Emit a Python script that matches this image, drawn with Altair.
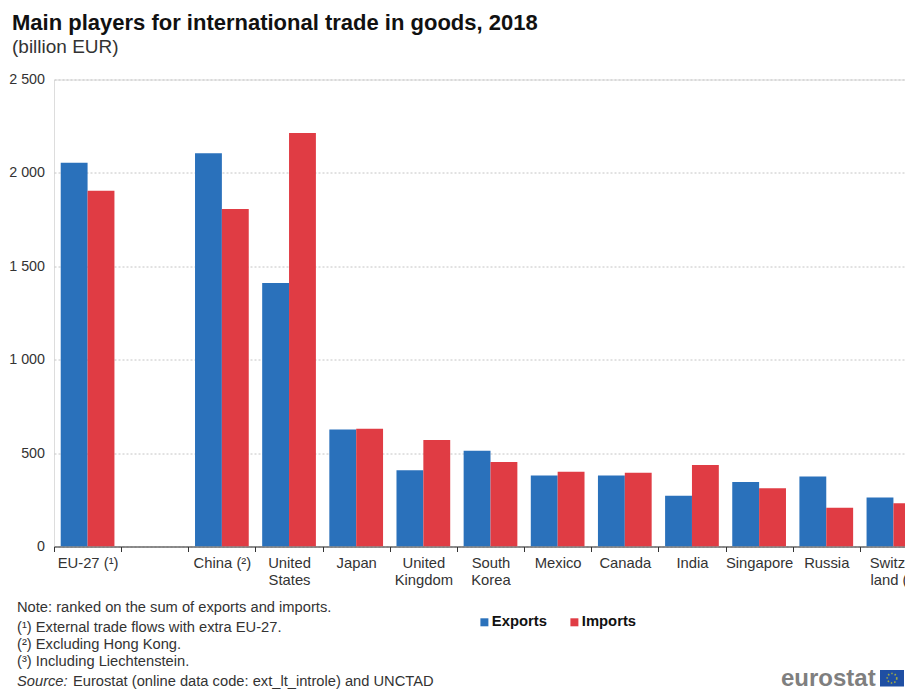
import altair as alt
import pandas as pd

countries = ["EU-27 (¹)", " ", "China (²)", "United|States", "Japan", "United|Kingdom",
             "South|Korea", "Mexico", "Canada", "India", "Singapore", "Russia", "Switzer|land (³)"]
exports = [2055, None, 2105, 1410, 626, 408, 512, 380, 380, 272, 345, 375, 262]
imports = [1905, None, 1807, 2213, 630, 570, 452, 400, 395, 436, 312, 208, 232]
series = ["Exports", "Imports"]
colors = ["#2a71bb", "#e03c44"]
title_text = "Main players for international trade in goods, 2018"
subtitle_text = "(billion EUR)"
FONT = "Liberation Sans"
TEXT = "#333333"

rows = []
for c, e, i in zip(countries, exports, imports):
    rows.append({"country": c, "series": "Exports", "value": e})
    rows.append({"country": c, "series": "Imports", "value": i})
df = pd.DataFrame(rows)

bars = alt.Chart(df).mark_bar(clip=True).encode(
    x=alt.X("country:N", sort=countries, title=None,
            scale=alt.Scale(range=[0, 873], paddingInner=0.2, paddingOuter=0.1),
            axis=alt.Axis(labelExpr="split(datum.label, '|')", labelAngle=0, labelAlign="center",
                          labelBaseline="top", labelFont=FONT, labelFontSize=14.8, labelColor=TEXT,
                          labelPadding=4, labelLineHeight=17, labelLimit=100, labelOverlap=False,
                          bandPosition=0, tickOffset=-6.7, tickExtra=True, labelOffset=6.7,
                          tickColor=TEXT, tickSize=5, domainColor=TEXT, grid=False)),
    xOffset=alt.XOffset("series:N", sort=series),
    y=alt.Y("value:Q", title=None,
            scale=alt.Scale(domain=[0, 2500], nice=False),
            axis=alt.Axis(values=[0, 500, 1000, 1500, 2000, 2500],
                          labelExpr="replace(format(datum.value, ','), ',', ' ')",
                          labelFont=FONT, labelFontSize=14.3, labelColor=TEXT, labelPadding=9.5,
                          ticks=False, domain=False, gridColor="#c4c4c4", gridDash=[2, 2],
                          gridWidth=1)),
    color=alt.Color("series:N", sort=series, title=None,
                    scale=alt.Scale(domain=series, range=colors),
                    legend=alt.Legend(orient="none", legendX=423, legendY=535, direction="horizontal",
                                      symbolType="square", symbolSize=64, symbolStrokeWidth=0,
                                      labelFont=FONT, labelFontSize=14.8, labelFontWeight="bold",
                                      labelColor="#111111", columnPadding=20, labelOffset=0)),
)


def note(text, x, y, **kw):
    base = dict(align="left", baseline="alphabetic", font=FONT, fontSize=14.7, color=TEXT)
    base.update(kw)
    return alt.Chart(pd.DataFrame({"t": [text]})).mark_text(**base).encode(
        text="t:N", x=alt.value(x), y=alt.value(y))


notes = [
    note("Note: ranked on the sum of exports and imports.", -37, 532.5),
    note("(¹) External trade flows with extra EU-27.", -37, 552),
    note("(²) Excluding Hong Kong.", -37, 569.5),
    note("(³) Including Liechtenstein.", -37, 586.5),
    note("Source:", -37, 606, fontStyle="italic"),
    note("Eurostat (online data code: ext_lt_introle) and UNCTAD", 19, 606),
    note("eurostat", 727, 606, fontSize=24, fontWeight="bold", color="#7f7f7f"),
]

flag = alt.Chart(pd.DataFrame({"f": [1]})).mark_rect(color="#1f4fa3").encode(
    x=alt.value(826), x2=alt.value(850), y=alt.value(590.5), y2=alt.value(607))
ring = alt.Chart(pd.DataFrame({"f": [1]})).mark_point(
    color="#d9d21e", size=90, strokeWidth=1.6, strokeDash=[1.5, 2]).encode(
    x=alt.value(838), y=alt.value(598.7))

chart = alt.layer(bars, *notes, flag, ring).properties(
    width=851, height=467,
    title=alt.TitleParams(title_text, subtitle=subtitle_text, anchor="start", frame="group",
                          dx=-42, offset=15, font=FONT, fontSize=22, fontWeight="bold",
                          color="#111111", subtitleFont=FONT, subtitleFontSize=19,
                          subtitleColor=TEXT, subtitlePadding=3),
    autosize=alt.AutoSizeParams(type="none"),
    padding={"left": 46, "top": 71.5, "right": 0, "bottom": 142.5},
).configure_view(stroke=None).configure(background="white")

chart.save("out.html", embed_options={"renderer": "svg", "actions": False})
